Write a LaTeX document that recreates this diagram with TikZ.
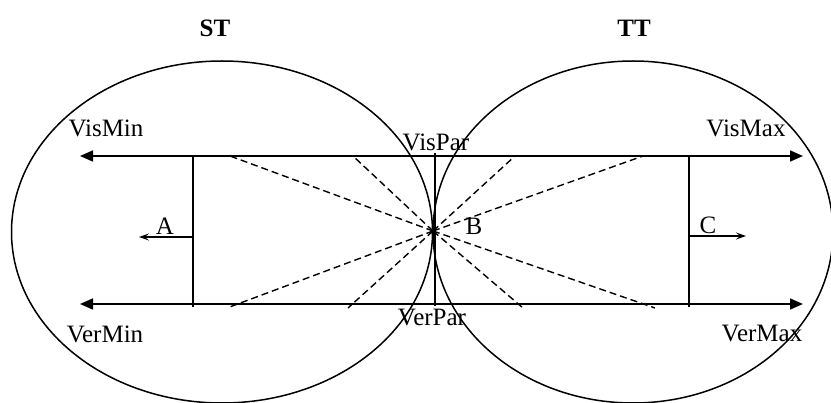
\documentclass[tikz,border=0pt]{standalone}
\usepackage{fontspec}
\setmainfont{Liberation Serif}
\usetikzlibrary{shapes.geometric,arrows.meta}

\begin{document}
\begin{tikzpicture}[
    x=1pt, y=-1pt,
    zone/.style={
      ellipse, draw, line width=1.5pt, inner sep=0pt,
      minimum width=421pt, minimum height=342pt
    },
    axis/.style={{Triangle[length=13pt,width=11pt]}-{Triangle[length=13pt,width=11pt]}, line width=1.6pt},
    bar/.style={line width=1.6pt},
    move/.style={-{Stealth[length=10pt,width=7pt,inset=4pt]}, line width=1.5pt},
    ray/.style={dash pattern=on 7pt off 4pt, line width=1.4pt},
    lbl/.style={font=\fontsize{25}{30}\selectfont, inner sep=0pt}
  ]
    \clip (0,0) rectangle (831,403);
    % the two zones
    \node[zone] (st) at (222,232) {};
    \node[zone, minimum width=400pt] (tt) at (633,232) {};
    \node[lbl, font=\fontsize{25}{30}\selectfont\bfseries] (stname) at (215,28) {ST};
    \node[lbl, font=\fontsize{25}{30}\selectfont\bfseries] (ttname) at (634,28) {TT};

    % visual and vertical ranges
    \coordinate (vmin) at (80,156);
    \coordinate (vmax) at (803,156);
    \coordinate (rmin) at (80,304);
    \coordinate (rmax) at (803,304);
    \draw[axis] (vmin) -- (vmax);
    \draw[axis] (rmin) -- (rmax);
    \node[lbl] (vismin) at (106,128) {VisMin};
    \node[lbl] (vermin) at (105,334) {VerMin};
    \node[lbl] (vispar) at (436,142) {VisPar};
    \node[lbl] (verpar) at (432,318) {VerPar};
    \node[lbl] (vismax) at (746,128) {VisMax};
    \node[lbl] (vermax) at (762,334) {VerMax};

    % the three bars
    \coordinate (a1) at (193,156);
    \coordinate (a2) at (193,307);
    \coordinate (p1) at (435,153);
    \coordinate (p2) at (435,306);
    \coordinate (c1) at (689,156);
    \coordinate (c2) at (689,307);
    \draw[bar] (a1) -- (a2);
    \draw[bar] (p1) -- (p2);
    \draw[bar] (c1) -- (c2);

    % moves
    \coordinate (am) at (193,237);
    \coordinate (ae) at (139,237);
    \coordinate (cm) at (689,236);
    \coordinate (ce) at (746,236);
    \draw[move] (am) -- (ae);
    \draw[move] (cm) -- (ce);
    \node[lbl] (la) at (165,226) {A};
    \node[lbl] (lc) at (708,225) {C};

    % rays through B
    \coordinate (b) at (433,231);
    \node[lbl] (lb) at (474,226) {B};
    \foreach \x in {230,353,515,643} {
      \draw[ray] (b) -- (\x,156);
    }
    \foreach \x in {227,348,523,655} {
      \draw[ray] (b) -- (\x,308);
    }
\end{tikzpicture}
\end{document}
